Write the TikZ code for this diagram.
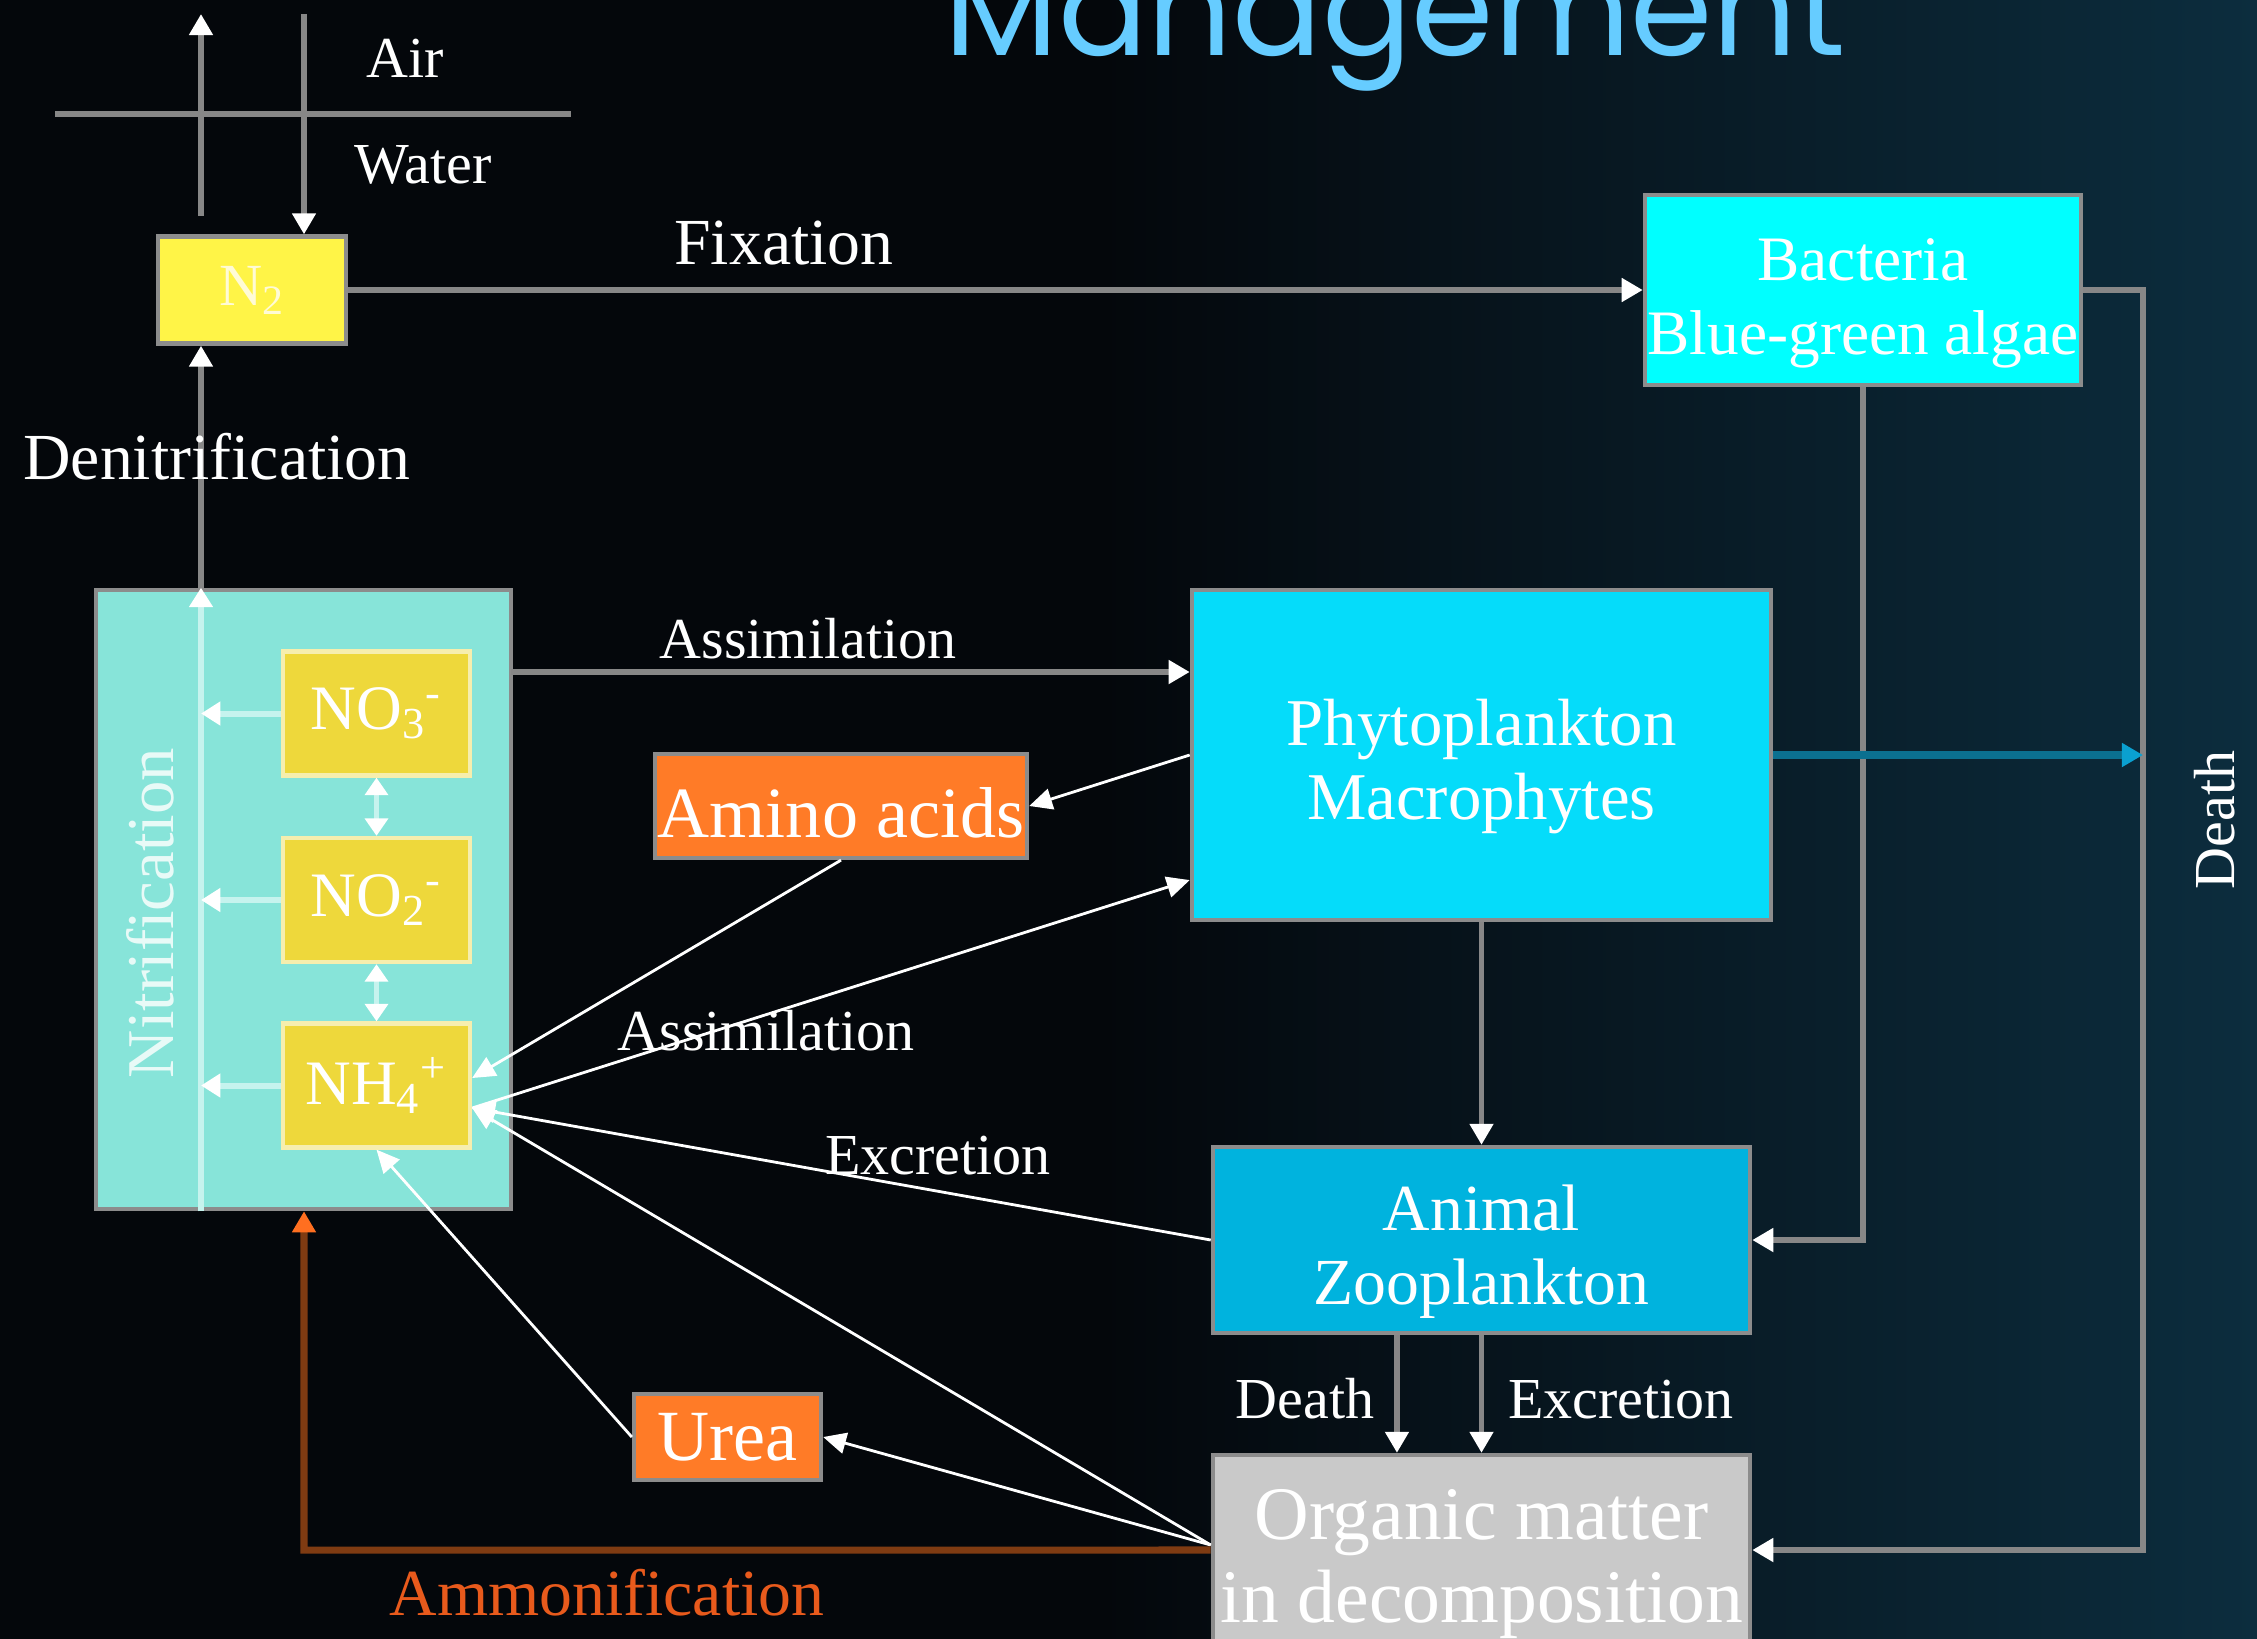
\documentclass[tikz,border=0pt]{standalone}
\usepackage{fontspec}
\setmainfont{Liberation Serif}
\newfontfamily\titlefont{Poppins}
\usetikzlibrary{arrows.meta,positioning}

\definecolor{bgdark}{HTML}{04070B}
\definecolor{bgteal}{HTML}{0C2D3E}
\definecolor{titleblue}{HTML}{66CCFF}
\definecolor{linegray}{HTML}{878787}
\definecolor{boxedge}{HTML}{8C8C8C}
\definecolor{n2yellow}{HTML}{FFF447}
\definecolor{n2text}{HTML}{FFFBD6}
\definecolor{nyellow}{HTML}{EED83B}
\definecolor{nedge}{HTML}{F6EEAE}
\definecolor{nitrifcol}{HTML}{87E4D9}
\definecolor{innerline}{HTML}{C6F3EE}
\definecolor{innertext}{HTML}{E8FAF7}
\definecolor{bactcol}{HTML}{00FFFF}
\definecolor{phytocol}{HTML}{05DCFA}
\definecolor{animalcol}{HTML}{00B3DE}
\definecolor{organiccol}{HTML}{C9C9C9}
\definecolor{aminocol}{HTML}{FF7B27}
\definecolor{ammline}{HTML}{7F3B12}
\definecolor{ammhead}{HTML}{FF6F20}
\definecolor{ammtext}{HTML}{E85A1C}
\definecolor{deathblue}{HTML}{0B7090}
\definecolor{deathhead}{HTML}{0AA0D0}

\begin{document}
\begin{tikzpicture}[x=0.01cm, y=-0.01cm,
    every node/.style={text=white, inner sep=0pt},
    lbl/.style={font=\fontsize{16.5}{19}\selectfont, anchor=base},
    lblbig/.style={font=\fontsize{18.7}{21}\selectfont, anchor=base},
    box/.style={draw=boxedge, line width=1.2pt, align=center, font=\fontsize{18.7}{21}\selectfont},
    nbox/.style={draw=nedge, line width=1.2pt, fill=nyellow, minimum width=1.87cm, minimum height=1.24cm, font=\fontsize{18}{21}\selectfont},
    obox/.style={box, fill=aminocol, font=\fontsize{20.5}{23}\selectfont},
    flow/.style={draw=linegray, line width=1.6pt, -{Triangle[width=6.5pt,length=6pt,color=white]}},
    thinflow/.style={draw=white, line width=0.8pt, -{Triangle[width=6pt,length=6.5pt]}},
    innerflow/.style={draw=innerline, line width=1.7pt, -{Triangle[width=6.5pt,length=5.5pt,color=white]}},
    innerdbl/.style={draw=innerline, line width=1.7pt, {Triangle[width=6.5pt,length=5pt,color=white]}-{Triangle[width=6.5pt,length=5pt,color=white]}},
    ammflow/.style={draw=ammline, line width=2pt, -{Triangle[width=6.5pt,length=6pt,color=ammhead]}},
    deathflow/.style={draw=deathblue, line width=2pt, -{Triangle[width=6.5pt,length=6pt,color=deathhead]}}]

    \useasboundingbox (0,0) rectangle (2257,1639);
    \clip (0,0) rectangle (2257,1639);
    \fill[bgdark] (0,0) rectangle (2257,1639);
    \shade[left color=bgdark, right color=bgteal] (1100,0) rectangle (2257,1639);

    \node[anchor=base, text=titleblue, font=\titlefont\fontsize{37.7}{40}\selectfont] (title) at (1395,55) {Management};

    \node[box, fill=n2yellow, text=n2text, minimum width=1.88cm, minimum height=1.07cm, font=\fontsize{17}{20}\selectfont] (n2) at (252,290) {N\textsubscript{2}};
    \node[box, fill=bactcol, minimum width=4.36cm, minimum height=1.9cm, font=\fontsize{18}{21}\selectfont] (bact) at (1863,290) {\rule{0pt}{19.6pt}Bacteria\\Blue-green algae};
    \node[box, fill=nitrifcol, minimum width=4.15cm, minimum height=6.19cm] (nitrif) at (303.5,899.5) {};
    \node[nbox] (no3) at (376.5,713.5) {NO\textsubscript{3}\textsuperscript{-}};
    \node[nbox] (no2) at (376.5,900) {NO\textsubscript{2}\textsuperscript{-}};
    \node[nbox] (nh4) at (376.5,1085.5) {NH\textsubscript{4}\textsuperscript{+}};
    \node[obox, minimum width=3.72cm, minimum height=1.04cm] (amino) at (841,806) {\rule{0pt}{18pt}Amino acids};
    \node[box, fill=phytocol, minimum width=5.79cm, minimum height=3.3cm, font=\fontsize{19}{21}\selectfont] (phyto) at (1481.5,755) {\rule{0pt}{19.8pt}Phytoplankton\\Macrophytes};
    \node[box, fill=animalcol, minimum width=5.37cm, minimum height=1.86cm] (animal) at (1481.5,1240) {\rule{0pt}{19.8pt}Animal\\Zooplankton};
    \node[box, fill=organiccol, minimum width=5.37cm, minimum height=2.04cm, font=\fontsize{21.5}{23.5}\selectfont] (organic) at (1481.5,1557) {\rule{0pt}{18.3pt}Organic matter\\in decomposition};
    \node[obox, minimum width=1.87cm, minimum height=0.86cm] (urea) at (727.5,1437) {Urea};

    \coordinate (surfL) at (55,114);
    \coordinate (surfR) at (571,114);
    \coordinate (airtop) at (201,14);
    \coordinate (n2top) at (201,216);
    \coordinate (skyin) at (304,14);
    \draw[linegray, line width=1.6pt] (surfL) -- (surfR);
    \draw[flow] (n2top) -- (airtop);
    \draw[flow] (skyin) -- (skyin |- n2.north);
    \node[lbl] (airlbl) at (405,77) {Air};
    \node[lbl] (waterlbl) at (423,183) {Water};

    \draw[flow] (n2.east) -- (bact.west);
    \node[lblbig] (fixlbl) at (784,264) {Fixation};

    \coordinate (bactR) at (2143,290);
    \coordinate (deathcorner) at (2143,1550);
    \draw[flow] (bact.east) -- (bactR) -- (deathcorner) -- (deathcorner -| organic.east);
    \draw[flow] (bact.south) -- (bact.south |- animal.east) -- (animal.east);
    \draw[deathflow] (phyto.east) -- (phyto.east -| deathcorner);
    \node[lbl, rotate=90] (deathlbl) at (2234,820) {Death};

    \draw[innerflow] (nitrif.south -| n2top) -- (nitrif.north -| n2top);
    \draw[flow] (nitrif.north -| n2top) -- (n2.south -| n2top);
    \node[lblbig] (denitlbl) at (217,479) {Denitrification};

    \foreach \n in {no3,no2,nh4}
        \draw[innerflow] (\n.west) -- (\n.west -| n2top);
    \draw[innerdbl] (no3.south) -- (no2.north);
    \draw[innerdbl] (no2.south) -- (nh4.north);
    \node[lbl, rotate=90, text=innertext, font=\fontsize{19}{21}\selectfont] (nitriflbl) at (173,913) {Nitrification};

    \coordinate (assimA) at (511,672);
    \draw[flow] (assimA) -- (assimA -| phyto.west);
    \node[lbl] (assimlbl) at (808,658) {Assimilation};

    \draw[thinflow] (phyto.west) -- (amino.east);
    \draw[thinflow] (amino.south) -- ([yshift=0.075cm]nh4.east);
    \draw[thinflow] ([yshift=-0.225cm]nh4.east) -- ([yshift=-1.25cm]phyto.west);
    \node[lbl] (assim2lbl) at (766,1050) {Assimilation};
    \draw[thinflow] (animal.west) -- ([yshift=-0.225cm]nh4.east);
    \node[lbl] (excrlbl) at (938,1174) {Excretion};
    \draw[thinflow] ([yshift=0.12cm]organic.west) -- ([yshift=-0.225cm]nh4.east);
    \draw[thinflow] ([yshift=0.12cm]organic.west) -- (urea.east);
    \draw[thinflow] (urea.west) -- (nh4.south);

    \coordinate (ammcorner) at (304,1550);
    \draw[ammflow] ([yshift=0.07cm]organic.west) -- (ammcorner) -- (ammcorner |- nitrif.south);
    \node[lblbig, text=ammtext] (ammlbl) at (607,1615) {Ammonification};

    \draw[flow] (phyto.south) -- (animal.north);
    \draw[flow] ([xshift=-0.845cm]animal.south) -- ([xshift=-0.845cm]organic.north);
    \draw[flow] (animal.south) -- (organic.north);
    \node[lbl] (deathlbl2) at (1305,1418) {Death};
    \node[lbl] (excrlbl2) at (1621,1418) {Excretion};
\end{tikzpicture}
\end{document}
